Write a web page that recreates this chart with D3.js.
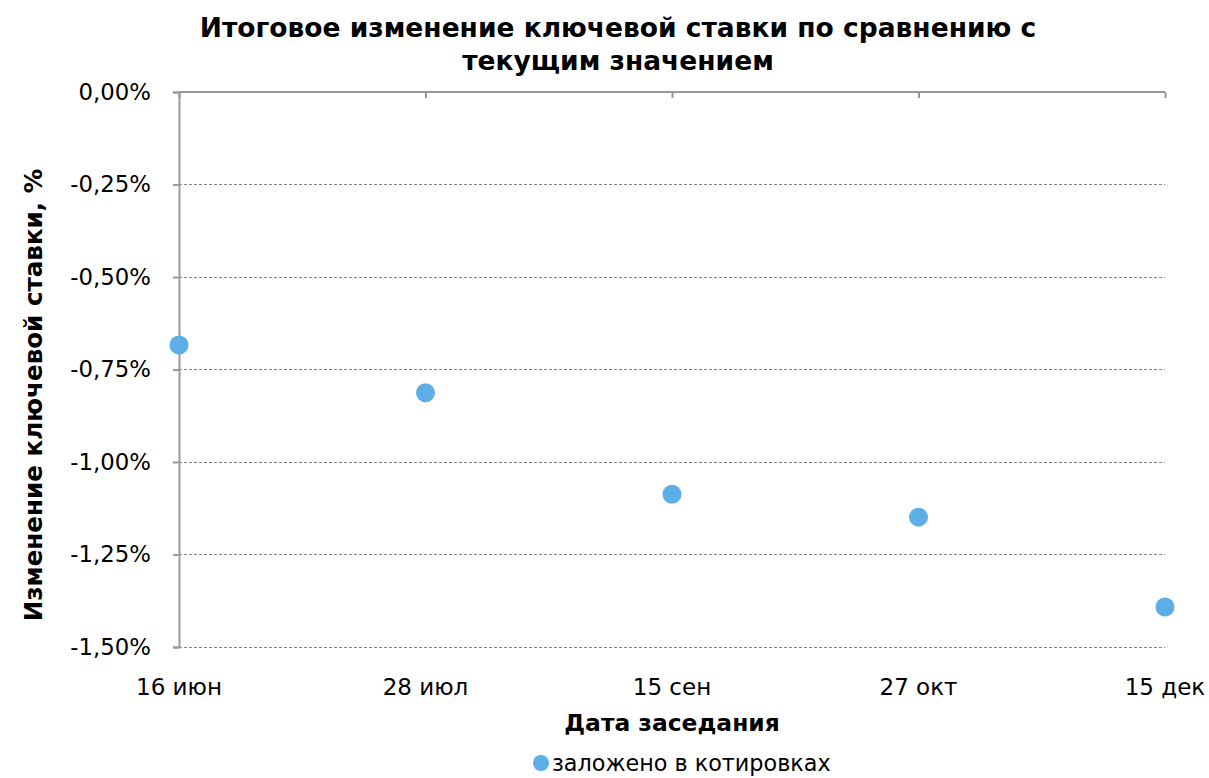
<!DOCTYPE html>
<html><head><meta charset="utf-8">
<script src="https://cdn.jsdelivr.net/npm/d3@7"></script>
<style>body{margin:0;background:#fff}svg{display:block}text{font-family:"DejaVu Sans",Verdana,sans-serif}</style>
</head><body>
<svg id="c" width="1209" height="778"></svg>
<script>
const categories = ["16 июн","28 июл","15 сен","27 окт","15 дек"];
const values = [-0.684, -0.813, -1.087, -1.149, -1.392];
const yTicks = [0, -0.25, -0.5, -0.75, -1.0, -1.25, -1.5];
const seriesName = "заложено в котировках";
const title = ["Итоговое изменение ключевой ставки по сравнению с","текущим значением"];
const xTitle = "Дата заседания";
const yTitle = "Изменение ключевой ставки, %";

const svg = d3.select("#c");
const L = 179, R = 1165, T = 92, B = 647;
const x = d3.scalePoint().domain(categories).range([L, R]);
const y = d3.scaleLinear().domain([-1.5, 0]).range([B, T]);
const fmt = v => (v === 0 ? "0,00%" : d3.format(".2f")(v).replace("−","-").replace(".", ",") + "%");

// gridlines
svg.append("g").selectAll("line").data(yTicks.filter(v => v !== 0)).join("line")
  .attr("x1", L).attr("x2", R).attr("y1", d => y(d)).attr("y2", d => y(d))
  .attr("stroke", "#858585").attr("stroke-width", 1).attr("stroke-dasharray", "3,2")
  .attr("shape-rendering", "crispEdges");

// y axis
const yAxis = d3.axisLeft(y).tickValues(yTicks).tickSize(6).tickPadding(22).tickFormat(fmt);
const gy = svg.append("g").attr("transform", `translate(${L},0)`).call(yAxis);
gy.select(".domain").attr("stroke", "#999").attr("stroke-width", 2);
gy.selectAll(".tick line").attr("stroke", "#999").attr("stroke-width", 2);
gy.selectAll(".tick text").attr("font-size", 22.8).attr("fill", "#000")
  .attr("font-family", '"DejaVu Sans",sans-serif');

// x axis at top (y=0)
const xAxis = d3.axisBottom(x).tickSize(6).tickFormat("");
const gx = svg.append("g").attr("transform", `translate(0,${y(0)})`).call(xAxis);
gx.select(".domain").attr("stroke", "#999").attr("stroke-width", 2).attr("d", `M${L},0H${R}`);
gx.selectAll(".tick line").attr("stroke", "#999").attr("stroke-width", 2);

// x category labels at bottom
svg.append("g").selectAll("text").data(categories).join("text")
  .attr("x", d => x(d)).attr("y", 695).attr("text-anchor", "middle")
  .attr("font-size", 23).attr("fill", "#000").text(d => d);

// points
svg.append("g").selectAll("circle").data(values).join("circle")
  .attr("cx", (d, i) => x(categories[i])).attr("cy", d => y(d)).attr("r", 9.5)
  .attr("fill", "#5DADE6");

// title
svg.append("text").attr("x", 618).attr("y", 37).attr("text-anchor", "middle")
  .attr("font-size", 26.5).attr("font-weight", "bold").text(title[0]);
svg.append("text").attr("x", 618).attr("y", 70).attr("text-anchor", "middle")
  .attr("font-size", 26.5).attr("font-weight", "bold").text(title[1]);

// axis titles
svg.append("text").attr("x", 672).attr("y", 731).attr("text-anchor", "middle")
  .attr("font-size", 23.4).attr("font-weight", "bold").text(xTitle);
svg.append("text").attr("transform", "translate(42,395) rotate(-90)").attr("text-anchor", "middle")
  .attr("font-size", 24.6).attr("font-weight", "bold").text(yTitle);

// legend
const lg = svg.append("g");
lg.append("circle").attr("cx", 541).attr("cy", 763).attr("r", 8).attr("fill", "#5DADE6");
lg.append("text").attr("x", 552).attr("y", 771).attr("font-size", 22.3).text(seriesName);
</script>
</body></html>
